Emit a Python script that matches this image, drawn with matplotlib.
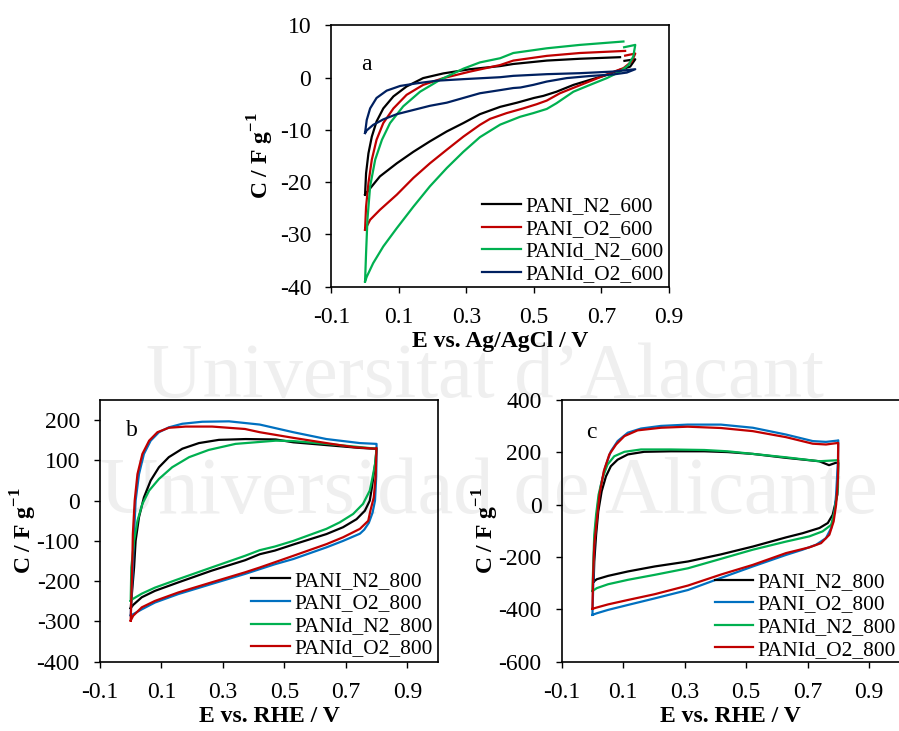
import numpy as np
import matplotlib
matplotlib.use("Agg")
import matplotlib.pyplot as plt

plt.rcParams['font.family'] = ['Liberation Serif', 'DejaVu Serif']
plt.rcParams['mathtext.fontset'] = 'custom'
plt.rcParams['mathtext.rm'] = 'Liberation Serif'
plt.rcParams['mathtext.bf'] = 'Liberation Serif:bold'
plt.rcParams['axes.unicode_minus'] = False

nan = np.nan

# ---------------- Panel a (600 series) ----------------
a_x_ticks = [-0.1, 0.1, 0.3, 0.5, 0.7, 0.9]
a_x_ticklabels = ["-0.1", "0.1", "0.3", "0.5", "0.7", "0.9"]
a_y_ticks = [-40, -30, -20, -10, 0, 10]
a_y_ticklabels = ["-40", "-30", "-20", "-10", "0", "10"]
a_labels = ["PANI_N2_600", "PANI_O2_600", "PANId_N2_600", "PANId_O2_600"]

a_pani_n2_E = [0, 0.003, 0.010, 0.020, 0.034, 0.054, 0.084, 0.123, 0.172, 0.232, 0.311, 0.40, 0.439,
               0.538, 0.636, 0.755, nan, 0.768, 0.80, 0.785, 0.755, 0.716, 0.666, 0.617, 0.567, 0.528,
               0.50, 0.45, 0.40, 0.34, 0.291, 0.242, 0.192, 0.143, 0.094, 0.044, 0.015, 0]
a_pani_n2_C = [-22.4, -18.3, -14.5, -11.3, -8.4, -5.9, -3.6, -1.7, -0.1, 0.8, 1.6, 2.2, 2.6,
               3.25, 3.6, 3.9, nan, 3.2, 3.5, 2.1, 1.5, 0.5, -0.44, -1.4, -2.7, -3.5,
               -3.9, -4.8, -5.6, -7.0, -8.7, -10.3, -12.2, -14.2, -16.4, -18.9, -21.2, -22.4]

a_pani_o2_E = [0, 0.003, 0.010, 0.020, 0.034, 0.054, 0.084, 0.123, 0.172, 0.232, 0.311, 0.40, 0.439,
               0.538, 0.636, 0.77, nan, 0.77, 0.80, 0.79, 0.765, 0.725, 0.676, 0.627, 0.577, 0.538,
               0.508, 0.468, 0.419, 0.37, 0.34, 0.291, 0.242, 0.192, 0.143, 0.094, 0.044, 0.015, 0]
a_pani_o2_C = [-29.1, -24.7, -20.2, -15.7, -11.9, -8.7, -5.9, -3.3, -1.4, -0.1, 1.15, 2.4, 3.25,
               4.15, 4.7, 5.1, nan, 4.2, 4.6, 3.1, 1.8, 0.84, -0.44, -1.7, -3.0, -4.4,
               -5.1, -5.9, -6.8, -7.9, -9.05, -11.3, -13.8, -16.4, -19.2, -22.4, -25.3, -27.2, -29.1]

a_panid_n2_E = [0, 0.003, 0.007, 0.015, 0.03, 0.05, 0.074, 0.113, 0.163, 0.222, 0.291, 0.34, 0.40,
                0.439, 0.538, 0.636, 0.765, nan, 0.767, 0.80, 0.794, 0.78, 0.755, 0.716, 0.666, 0.617,
                0.567, 0.538, 0.498, 0.459, 0.40, 0.34, 0.291, 0.242, 0.192, 0.143, 0.094, 0.054,
                0.024, 0.005, 0]
a_panid_n2_C = [-39.0, -33.6, -27.2, -20.8, -15.7, -11.9, -8.7, -5.5, -2.7, -0.44, 1.7, 2.9, 3.7,
                4.7, 5.6, 6.25, 6.9, nan, 5.8, 6.25, 4.0, 2.4, 1.15, -0.1, -1.4, -2.7,
                -4.9, -6.0, -6.8, -7.5, -9.0, -11.4, -14.2, -17.3, -20.8, -24.7, -28.8, -32.3,
                -35.5, -38.1, -39.0]

a_panid_o2_E = [0, 0.005, 0.015, 0.034, 0.064, 0.104, 0.153, 0.212, 0.291, 0.40, 0.439, 0.538, 0.636,
                0.735, 0.80, 0.775, 0.735, 0.666, 0.597, 0.538, 0.498, 0.46, 0.439, 0.40, 0.34, 0.291,
                0.242, 0.192, 0.143, 0.094, 0.054, 0.024, 0.005, 0]
a_panid_o2_C = [-10.6, -8.1, -5.9, -3.9, -2.5, -1.6, -1.1, -0.6, -0.3, 0.07, 0.33, 0.65, 0.84,
                1.15, 1.6, 0.96, 0.6, 0.3, -0.1, -0.76, -1.4, -1.9, -2.0, -2.4, -3.0, -3.9,
                -4.8, -5.4, -6.2, -7.0, -8.0, -9.05, -10.1, -10.6]

# ---------------- Panel b (800 series) ----------------
bc_x_ticks = [-0.1, 0.1, 0.3, 0.5, 0.7, 0.9]
bc_x_ticklabels = ["-0.1", "0.1", "0.3", "0.5", "0.7", "0.9"]
b_y_ticks = [-400, -300, -200, -100, 0, 100, 200]
b_y_ticklabels = ["-400", "-300", "-200", "-100", "0", "100", "200"]
bc_labels = ["PANI_N2_800", "PANI_O2_800", "PANId_N2_800", "PANId_O2_800"]

b_pani_n2_E = [0, 0.011, 0.016, 0.027, 0.043, 0.065, 0.092, 0.124, 0.168, 0.222, 0.287, 0.374, 0.472,
               0.529, 0.637, 0.746, 0.795, 0.80, 0.797, 0.791, 0.785, 0.778, 0.762, 0.735, 0.691, 0.637,
               0.529, 0.469, 0.42, 0.372, 0.263, 0.155, 0.079, 0.036, 0.008, 0]
b_pani_n2_C = [-267, -166, -100, -41, 8, 50, 83, 108, 129, 143, 151, 153, 152,
               145, 138, 131, 129, 129, 100, 66, 33, 0, -25, -46, -66, -83,
               -109, -124, -133, -148, -174, -203, -224, -240, -259, -267]

b_pani_o2_E = [0, 0.007, 0.011, 0.016, 0.027, 0.043, 0.065, 0.092, 0.124, 0.168, 0.233, 0.32, 0.42,
               0.529, 0.637, 0.746, 0.80, 0.80, 0.799, 0.795, 0.787, 0.775, 0.76, 0.746, 0.691, 0.637,
               0.529, 0.469, 0.372, 0.263, 0.155, 0.079, 0.036, 0.008, 0]
b_pani_o2_C = [-285, -166, -83, 0, 66, 116, 149, 170, 182, 191, 196, 197, 189,
               170, 153, 143, 141, 120, 60, 0, -30, -55, -72, -82, -100, -116,
               -145, -158, -182, -207, -232, -253, -270, -282, -285]

b_panid_n2_E = [0, 0.002, 0.011, 0.022, 0.038, 0.06, 0.092, 0.135, 0.19, 0.254, 0.341, 0.472, 0.529,
                0.637, 0.746, 0.80, 0.795, 0.787, 0.778, 0.756, 0.724, 0.68, 0.637, 0.529, 0.469, 0.42,
                0.372, 0.263, 0.155, 0.079, 0.036, 0.005, 0]
b_panid_n2_C = [-249, -166, -100, -50, -8, 25, 54, 83, 108, 126, 141, 149, 148,
                141, 133, 129, 90, 58, 25, -8, -33, -54, -70, -100, -114, -123,
                -137, -166, -195, -216, -231, -245, -249]

b_panid_o2_E = [0, 0.005, 0.007, 0.013, 0.022, 0.038, 0.06, 0.087, 0.124, 0.179, 0.265, 0.372, 0.42,
                0.529, 0.637, 0.724, 0.795, 0.80, 0.797, 0.791, 0.78, 0.773, 0.746, 0.691, 0.637, 0.529,
                0.469, 0.42, 0.372, 0.263, 0.155, 0.079, 0.036, 0.008, 0]
b_panid_o2_C = [-298, -166, -83, 0, 66, 116, 149, 170, 181, 184, 184, 178, 170,
                156, 143, 133, 129, 131, 60, 8, -25, -50, -70, -91, -108, -137,
                -153, -166, -178, -203, -228, -249, -265, -286, -298]

# ---------------- Panel c (800 series) ----------------
c_y_ticks = [-600, -400, -200, 0, 200, 400]
c_y_ticklabels = ["-600", "-400", "-200", "0", "200", "400"]

c_pani_n2_E = [0.004, 0.006, 0.012, 0.019, 0.03, 0.044, 0.06, 0.082, 0.115, 0.168, 0.255, 0.364, 0.44,
               0.522, 0.63, 0.738, 0.77, 0.792, 0.80, 0.797, 0.782, 0.766, 0.739, 0.684, 0.63, 0.522,
               0.418, 0.311, 0.203, 0.116, 0.051, 0.014, 0.004]
c_pani_n2_C = [-294, -217, -115, -26, 51, 108, 147, 172, 192, 202, 204, 204, 201,
               194, 179, 166, 151, 160, 160, 38, -38, -70, -89, -109, -125, -160,
               -190, -217, -236, -255, -272, -285, -294]

c_pani_o2_E = [0, 0.003, 0.006, 0.012, 0.019, 0.028, 0.041, 0.06, 0.082, 0.115, 0.158, 0.223, 0.31,
               0.418, 0.522, 0.63, 0.717, 0.76, 0.798, 0.80, 0.799, 0.793, 0.788, 0.777, 0.76, 0.728,
               0.684, 0.63, 0.522, 0.418, 0.311, 0.203, 0.116, 0.051, 0.014, 0]
c_pani_o2_C = [-421, -294, -153, -64, 13, 77, 141, 204, 243, 275, 291, 301, 306,
               306, 294, 268, 243, 240, 245, 246, 166, 38, -26, -89, -128, -153,
               -172, -192, -236, -280, -326, -358, -383, -402, -415, -421]

c_panid_n2_E = [0, 0.003, 0.006, 0.012, 0.02, 0.033, 0.049, 0.071, 0.104, 0.158, 0.255, 0.364, 0.44,
                0.522, 0.63, 0.738, 0.80, 0.799, 0.788, 0.777, 0.749, 0.706, 0.63, 0.522, 0.418, 0.311,
                0.203, 0.116, 0.051, 0.014, 0]
c_panid_n2_C = [-330, -217, -115, -38, 38, 102, 153, 185, 202, 211, 211, 209, 204,
                194, 181, 166, 170, 64, -26, -77, -102, -121, -141, -172, -207, -243,
                -268, -287, -304, -319, -330]

c_panid_o2_E = [0, 0.002, 0.006, 0.015, 0.023, 0.037, 0.055, 0.077, 0.104, 0.147, 0.223, 0.31, 0.418,
                0.522, 0.63, 0.717, 0.76, 0.80, 0.799, 0.793, 0.785, 0.771, 0.744, 0.706, 0.63, 0.522,
                0.418, 0.311, 0.203, 0.116, 0.051, 0.014, 0]
c_panid_o2_C = [-398, -281, -153, -51, 38, 128, 192, 230, 262, 284, 294, 298, 293,
                281, 258, 233, 230, 236, 102, 0, -64, -115, -147, -163, -185, -230,
                -267, -309, -342, -364, -381, -393, -398]

# colours
BLACK = '#000000'
RED = '#c00000'
GREEN = '#00b050'
NAVY = '#002060'
BLUE = '#0070c0'

TICK_FS = 17
LAB_FS = 17
LEG_FS = 15.4
LW = 1.6

fig = plt.figure(figsize=(8.99, 7.31), dpi=100)

# watermark (background text)
fig.text(146 / 899, 1 - 397 / 731, "Universitat d\u2019Alacant", fontsize=56.5,
         color='#efefef', ha='left', va='baseline', zorder=-10)
fig.text(100 / 899, 1 - 513 / 731, "Universidad de Alicante", fontsize=58,
         color='#efefef', ha='left', va='baseline', zorder=-10)

ax_a = fig.add_axes([0.3685, 0.6078, 0.3757, 0.3576])
ax_b = fig.add_axes([0.1112, 0.0948, 0.376, 0.358])
ax_c = fig.add_axes([0.6248, 0.0948, 0.376, 0.358])


def style(ax, xt, xtl, yt, ytl, xlim, ylim, xlabel, letter, ylab_x):
    ax.set_facecolor('none')
    ax.set_xlim(*xlim)
    ax.set_ylim(*ylim)
    ax.set_xticks(xt)
    ax.set_xticklabels(xtl)
    ax.set_yticks(yt)
    ax.set_yticklabels(ytl)
    for s in ax.spines.values():
        s.set_linewidth(1.2)
    ax.tick_params(direction='out', length=4.5, width=1.0, pad=10, labelsize=TICK_FS,
                   top=False, right=False)
    ax.set_xlabel(xlabel, fontsize=LAB_FS, fontweight='bold', va='center')
    ax.xaxis.set_label_coords(0.5, -0.208)
    ax.set_ylabel(r'C / F g$^{\mathbf{-1}}$', fontsize=LAB_FS, fontweight='bold', va='center')
    ax.yaxis.set_label_coords(ylab_x, 0.5)
    ax.text(letter[1], letter[2], letter[0], transform=ax.transAxes, fontsize=TICK_FS,
            ha='center', va='center')


def add_legend(ax, anchor):
    ax.legend(loc='lower right', bbox_to_anchor=anchor, frameon=False, fontsize=LEG_FS,
              handlelength=1.8, handletextpad=0.2, labelspacing=0.12, borderpad=0,
              borderaxespad=0)


# panel a
for E, C, col, lab in [(a_pani_n2_E, a_pani_n2_C, BLACK, a_labels[0]),
                       (a_pani_o2_E, a_pani_o2_C, RED, a_labels[1]),
                       (a_panid_n2_E, a_panid_n2_C, GREEN, a_labels[2]),
                       (a_panid_o2_E, a_panid_o2_C, NAVY, a_labels[3])]:
    ax_a.plot(E, C, color=col, lw=LW, label=lab)
style(ax_a, a_x_ticks, a_x_ticklabels, a_y_ticks, a_y_ticklabels, (-0.1, 0.9), (-40, 10),
      'E vs. Ag/AgCl / V', ('a', 0.105, 0.85), -0.21)
add_legend(ax_a, (0.983, 0.01))

# panel b
for E, C, col, lab in [(b_pani_n2_E, b_pani_n2_C, BLACK, bc_labels[0]),
                       (b_pani_o2_E, b_pani_o2_C, BLUE, bc_labels[1]),
                       (b_panid_n2_E, b_panid_n2_C, GREEN, bc_labels[2]),
                       (b_panid_o2_E, b_panid_o2_C, RED, bc_labels[3])]:
    ax_b.plot(E, C, color=col, lw=LW, label=lab)
style(ax_b, bc_x_ticks, bc_x_ticklabels, b_y_ticks, b_y_ticklabels, (-0.1, 1.0), (-400, 250),
      'E vs. RHE / V', ('b', 0.094, 0.885), -0.225)
add_legend(ax_b, (0.984, 0.012))

# panel c
for E, C, col, lab in [(c_pani_n2_E, c_pani_n2_C, BLACK, bc_labels[0]),
                       (c_pani_o2_E, c_pani_o2_C, BLUE, bc_labels[1]),
                       (c_panid_n2_E, c_panid_n2_C, GREEN, bc_labels[2]),
                       (c_panid_o2_E, c_panid_o2_C, RED, bc_labels[3])]:
    ax_c.plot(E, C, color=col, lw=LW, label=lab)
style(ax_c, bc_x_ticks, bc_x_ticklabels, c_y_ticks, c_y_ticklabels, (-0.1, 1.0), (-600, 400),
      'E vs. RHE / V', ('c', 0.089, 0.875), -0.224)
add_legend(ax_c, (0.989, 0.008))

fig.savefig('out.png', dpi=100)
